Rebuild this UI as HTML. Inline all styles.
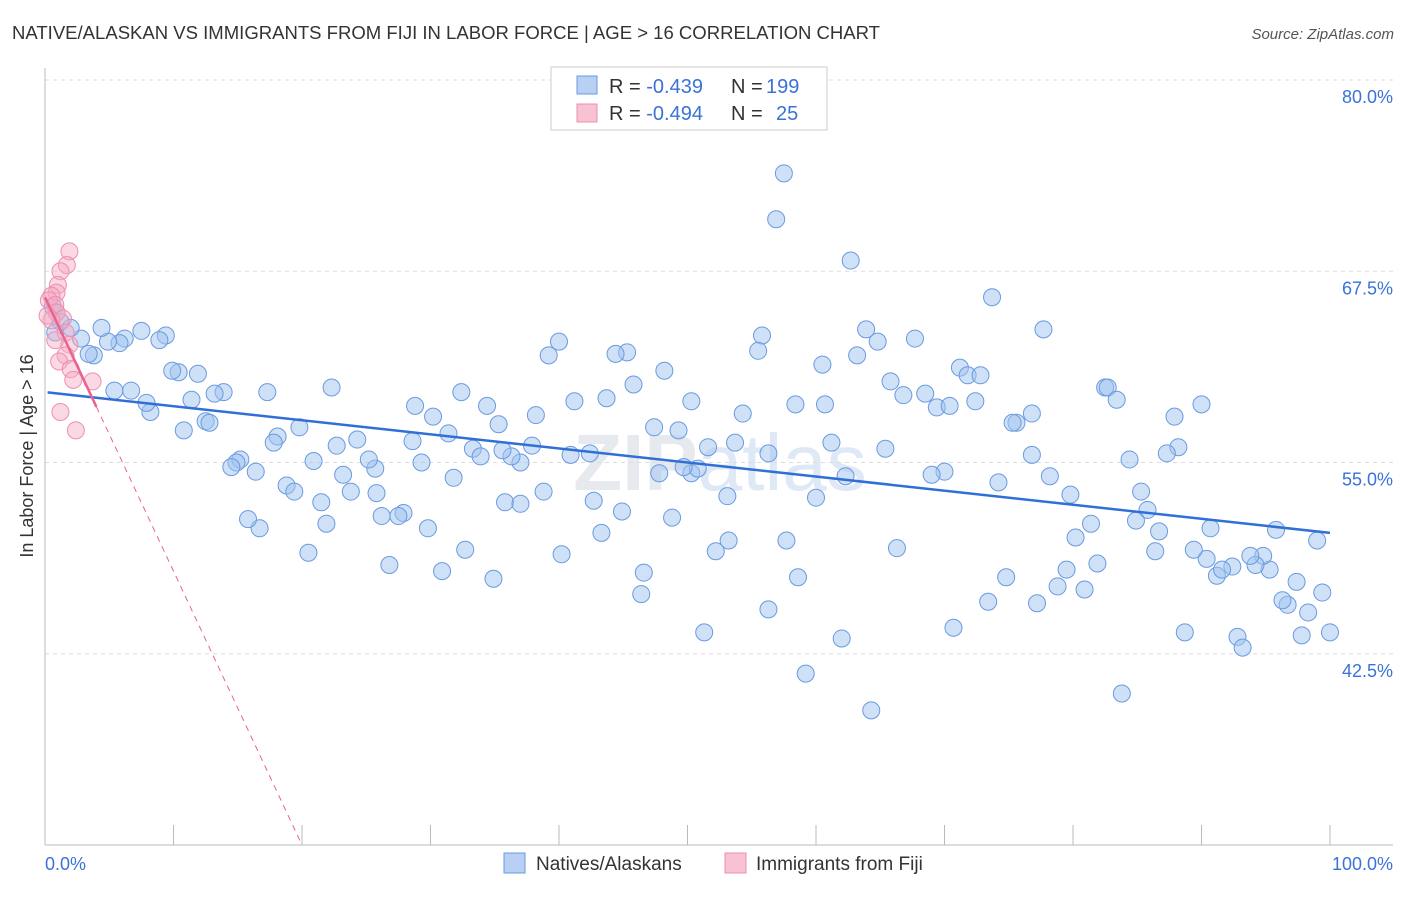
<!DOCTYPE html>
<html><head><meta charset="utf-8"><style>
body{margin:0;background:#fff;font-family:"Liberation Sans",sans-serif}
</style></head><body>
<svg id="c" width="1406" height="892" xmlns="http://www.w3.org/2000/svg">
<text x="12" y="39" font-size="18" fill="#333" textLength="868" lengthAdjust="spacingAndGlyphs">NATIVE/ALASKAN VS IMMIGRANTS FROM FIJI IN LABOR FORCE | AGE &gt; 16 CORRELATION CHART</text>
<text x="1394" y="39" font-size="15" fill="#555" font-style="italic" text-anchor="end">Source: ZipAtlas.com</text>
<text x="33" y="456" font-size="18" fill="#333" text-anchor="middle" transform="rotate(-90 33 456)">In Labor Force | Age &gt; 16</text>
<text x="720" y="490" font-size="80" fill="#e6e9ee" text-anchor="middle" font-weight="bold">ZIP<tspan font-weight="normal" fill="#dfe8f5">atlas</tspan></text>
<g id="grid"></g><g id="axes"></g><g id="pts"></g><g id="lines"></g>
<g>
<rect x="551" y="67" width="276" height="63" fill="#fff" stroke="#ccc"/>
<rect x="577" y="76" width="20" height="18" fill="#b7d0f3" stroke="#6a9ae0"/>
<rect x="577" y="104" width="20" height="18" fill="#f8c2d2" stroke="#ee8fae"/>
<text x="609" y="93" font-size="20" fill="#333">R = <tspan fill="#3a72d8">-0.439</tspan></text>
<text x="731" y="93" font-size="20" fill="#333">N = <tspan fill="#3a72d8" x="766">199</tspan></text>
<text x="609" y="120" font-size="20" fill="#333">R = <tspan fill="#3a72d8">-0.494</tspan></text>
<text x="731" y="120" font-size="20" fill="#333">N = <tspan fill="#3a72d8" x="776">25</tspan></text>
</g>
<g>
<rect x="504" y="853" width="21" height="20" fill="#b7d0f3" stroke="#6a9ae0"/>
<text x="536" y="870" font-size="19" fill="#333">Natives/Alaskans</text>
<rect x="725" y="853" width="21" height="20" fill="#f8c2d2" stroke="#ee8fae"/>
<text x="756" y="870" font-size="19" fill="#333">Immigrants from Fiji</text>
</g>
</svg>
<script>
const yTicks=[80.0,67.5,55.0,42.5];
const yTickLabels=["80.0%","67.5%","55.0%","42.5%"];
const xTickLabels=["0.0%","100.0%"];
const blueX=[57.5,56.9,62.7,73.7,77.7,63.9,64.8,67.7,55.8,55.5,63.2,60.5,71.2,71.8,72.8,65.8,66.8,68.5,69.4,70.4,72.4,82.5,82.7,83.4,90.0,87.9,88.2,87.3,76.8,75.6,75.3,84.4,85.3,85.8,84.9,86.7,86.4,76.8,78.2,79.8,81.4,80.2,81.9,79.5,78.8,80.9,74.2,74.8,77.2,73.4,70.7,70.0,69.0,66.3,65.4,62.3,61.2,60.7,58.4,60.0,56.3,54.3,53.7,53.1,53.2,52.2,57.7,58.6,56.3,51.3,59.2,62.0,64.3,83.8,88.7,92.8,93.2,97.8,100.0,98.3,96.7,96.3,97.4,99.4,95.3,94.8,94.2,93.8,92.4,91.2,91.6,90.4,89.4,90.7,95.8,99.0,50.3,51.6,50.3,50.8,49.7,49.3,48.2,47.8,48.8,47.4,45.8,45.3,44.4,43.7,41.2,40.0,39.2,38.2,37.9,37.0,36.3,35.6,35.3,34.4,32.4,31.4,30.2,28.8,28.6,29.3,33.3,33.9,31.8,35.8,37.0,38.8,40.9,42.4,42.7,44.9,43.3,40.2,46.6,46.4,32.7,34.9,30.9,29.8,27.9,27.5,26.2,26.8,25.8,25.7,25.2,24.3,22.7,23.2,23.8,22.3,19.8,20.9,18.1,17.8,18.8,19.4,21.5,21.9,20.5,16.7,15.8,16.4,15.2,14.9,14.5,17.3,13.9,13.2,12.5,12.8,11.4,10.8,10.4,9.9,11.9,9.4,8.9,8.2,7.9,7.5,6.7,6.2,5.8,5.4,4.9,4.4,3.8,3.4,2.8,2.0,1.2,0.6,0.9,0.8];
const blueY=[73.9,70.9,68.2,65.8,63.7,63.7,62.9,63.1,63.3,62.3,62.0,61.4,61.2,60.7,60.7,60.3,59.4,59.5,58.6,58.7,59.0,59.9,59.9,59.1,58.8,58.0,56.0,55.6,58.2,57.6,57.6,55.2,53.1,51.9,51.2,50.5,49.2,55.5,54.1,52.9,51.0,50.1,48.4,48.0,46.9,46.7,53.7,47.5,45.8,45.9,44.2,54.4,54.2,49.4,55.9,54.1,56.3,58.8,58.8,52.7,55.6,58.2,56.3,52.8,49.9,49.2,49.9,47.5,45.4,43.9,41.2,43.5,38.8,39.9,43.9,43.6,42.9,43.7,43.9,45.2,45.7,46.0,47.2,46.5,48.0,48.9,48.3,48.9,48.2,47.6,48.0,48.7,49.3,50.7,50.6,49.9,59.0,56.0,54.3,54.6,54.7,57.1,61.0,54.3,51.4,57.3,60.1,62.2,62.1,59.2,59.0,62.9,62.0,58.1,56.1,55.0,55.4,55.8,57.5,58.7,59.6,56.9,58.0,58.7,56.4,55.0,55.9,55.4,54.0,52.4,52.3,53.1,55.5,55.6,52.5,51.8,50.4,49.0,47.8,46.4,49.3,47.4,47.9,50.7,51.7,51.5,51.5,48.3,53.0,54.6,55.2,56.5,56.1,54.2,53.1,59.9,57.3,55.1,56.7,56.3,53.5,53.1,52.4,51.0,49.1,50.7,51.3,54.4,55.2,55.0,54.7,59.6,59.6,59.5,57.7,57.6,59.1,57.1,60.9,61.0,60.8,63.3,63.0,58.3,58.9,63.6,59.7,63.1,62.8,59.7,62.9,63.8,62.0,62.1,63.1,63.8,64.2,65.2,64.8,63.5];
const pinkX=[1.9,1.7,1.2,1.0,0.9,0.5,0.3,0.8,0.9,1.4,1.6,0.8,1.9,1.6,1.1,2.0,2.2,3.7,1.2,2.4,0.5,0.2];
const pinkY=[68.8,67.9,67.5,66.6,66.1,65.9,65.6,65.3,64.8,64.4,63.5,63.0,62.7,62.0,61.6,61.1,60.4,60.3,58.3,57.1,64.3,64.6];
const blueTrend=[59.6,50.4];
const pinkTrend=[65.8,-1.79];
const X0=45,X1=1330,Y0=845,Y1=80,YMIN=30,YMAX=80;
const sx=v=>X0+(v/100)*(X1-X0);
const sy=v=>Y0-(v-YMIN)/(YMAX-YMIN)*(Y0-Y1);
const NS="http://www.w3.org/2000/svg";
function mk(t,a,p){const e=document.createElementNS(NS,t);for(const k in a)e.setAttribute(k,a[k]);p.appendChild(e);return e;}
const grid=document.getElementById('grid'),axes=document.getElementById('axes'),pts=document.getElementById('pts'),lines=document.getElementById('lines');
yTicks.forEach((v,i)=>{
 const l=mk('line',{x1:X0,x2:1393,y1:sy(v),y2:sy(v),stroke:'#ddd','stroke-dasharray':'4,4'},grid);
 
 
 const t=mk('text',{x:1393,y:sy(v)+23,'font-size':18,fill:'#3a72d8','text-anchor':'end'},axes);
 t.textContent=yTickLabels[i];
 
 
});
const ya=mk('line',{x1:X0,x2:X0,y1:68,y2:Y0,stroke:'#bbb'},axes);


const xa=mk('line',{x1:X0,x2:1393,y1:Y0,y2:Y0,stroke:'#bbb'},axes);


for(let i=0;i<=10;i++){
 const tk=mk('line',{x1:sx(i*10),x2:sx(i*10),y1:Y0,y2:Y0-20,stroke:'#bbb'},axes);
 
 
}
[[0,'start',45],[100,'end',1393]].forEach((d,i)=>{
 const t=mk('text',{x:d[2],y:870,'font-size':18,fill:'#3a72d8','text-anchor':d[1]},axes);
 t.textContent=xTickLabels[i];
 
 
});
blueX.forEach((x,i)=>{
 const c=mk('circle',{cx:sx(x),cy:sy(blueY[i]),r:8.5,fill:'rgba(160,195,240,0.5)',stroke:'#6a9ae0','stroke-width':1},pts);
 
 
});
pinkX.forEach((x,i)=>{
 const c=mk('circle',{cx:sx(x),cy:sy(pinkY[i]),r:8.5,fill:'rgba(245,170,195,0.45)',stroke:'#ee8fae','stroke-width':1},pts);
 
 
});
const bl=mk('line',{x1:sx(0.2),y1:sy(blueTrend[0]+(blueTrend[1]-blueTrend[0])*0.002),x2:sx(100),y2:sy(blueTrend[1]),stroke:'#2f6fd6','stroke-width':2.5},lines);


const pEnd=(YMIN-pinkTrend[0])/pinkTrend[1];
const ps=mk('line',{x1:sx(0),y1:sy(pinkTrend[0]),x2:sx(4),y2:sy(pinkTrend[0]+pinkTrend[1]*4),stroke:'#e8638f','stroke-width':2.5},lines);


const pd=mk('line',{x1:sx(4),y1:sy(pinkTrend[0]+pinkTrend[1]*4),x2:sx(pEnd),y2:sy(YMIN),stroke:'#e8638f','stroke-width':1,'stroke-dasharray':'6,5'},lines);


</script>
</body></html>
